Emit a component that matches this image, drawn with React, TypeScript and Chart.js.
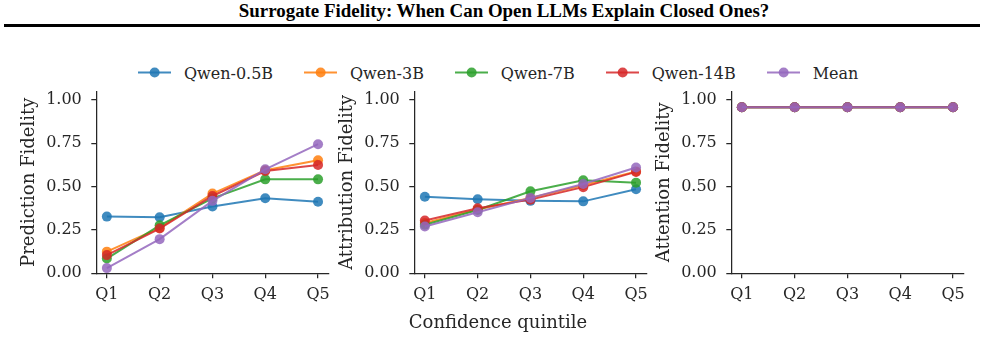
import React, { useEffect, useRef } from "react";
import { Chart, registerables } from "chart.js";
Chart.register(...registerables);

const categories = ["Q1", "Q2", "Q3", "Q4", "Q5"];
const seriesNames = ["Qwen-0.5B", "Qwen-3B", "Qwen-7B", "Qwen-14B", "Mean"];
const seriesColors = ["#1f77b4", "#ff7f0e", "#2ca02c", "#d62728", "#9467bd"];
const yTicks = [0, 0.25, 0.5, 0.75, 1.0];

const predQwen05 = [0.327, 0.323, 0.385, 0.433, 0.413];
const predQwen3 = [0.125, 0.262, 0.46, 0.595, 0.652];
const predQwen7 = [0.085, 0.277, 0.432, 0.542, 0.542];
const predQwen14 = [0.105, 0.258, 0.446, 0.59, 0.625];
const predMean = [0.03, 0.197, 0.418, 0.6, 0.745];

const attrQwen05 = [0.442, 0.427, 0.418, 0.415, 0.485];
const attrQwen3 = [0.29, 0.368, 0.435, 0.508, 0.588];
const attrQwen7 = [0.28, 0.365, 0.473, 0.537, 0.523];
const attrQwen14 = [0.305, 0.375, 0.425, 0.497, 0.585];
const attrMean = [0.27, 0.352, 0.435, 0.515, 0.61];

const attnQwen05 = [0.958, 0.958, 0.958, 0.958, 0.958];
const attnQwen3 = [0.958, 0.958, 0.958, 0.958, 0.958];
const attnQwen7 = [0.958, 0.958, 0.958, 0.958, 0.958];
const attnQwen14 = [0.958, 0.958, 0.958, 0.958, 0.958];
const attnMean = [0.958, 0.958, 0.958, 0.958, 0.958];

const panels = [
  { ylabel: "Prediction Fidelity", series: [predQwen05, predQwen3, predQwen7, predQwen14, predMean], left: 0 },
  { ylabel: "Attribution Fidelity", series: [attrQwen05, attrQwen3, attrQwen7, attrQwen14, attrMean], left: 317.5 },
  { ylabel: "Attention Fidelity", series: [attnQwen05, attnQwen3, attnQwen7, attnQwen14, attnMean], left: 635 },
];

const INK = "#262626";
const FONT = "'DejaVu Serif', serif";
const TICK_SIZE = 16;
const LABEL_SIZE = 18;
const CANVAS_W = 341;
const CANVAS_H = 240;
const Y_AXIS_W = 96.3;
const PLOT_W = 232.3;

function hexA(hex: string, a: number) {
  const n = parseInt(hex.slice(1), 16);
  return `rgba(${(n >> 16) & 255},${(n >> 8) & 255},${n & 255},${a})`;
}

function Panel({ ylabel, series, left }: { ylabel: string; series: number[][]; left: number }) {
  const ref = useRef<HTMLCanvasElement>(null);
  useEffect(() => {
    const chart = new Chart(ref.current!, {
      type: "line",
      data: {
        datasets: series.map((vals, i) => ({
          label: seriesNames[i],
          data: vals.map((v, j) => ({ x: j, y: v })),
          borderColor: hexA(seriesColors[i], 0.85),
          backgroundColor: hexA(seriesColors[i], 0.85),
          borderWidth: 2,
          pointRadius: 5,
          pointBorderWidth: 0,
          pointBackgroundColor: hexA(seriesColors[i], 0.85),
          order: 4 - i,
        })),
      },
      options: {
        animation: false,
        responsive: false,
        layout: { padding: { left: 0, right: CANVAS_W - Y_AXIS_W - PLOT_W, top: 11.3, bottom: 6.7 } },
        plugins: { legend: { display: false }, tooltip: { enabled: false } },
        scales: {
          x: {
            type: "linear",
            min: -0.2,
            max: 4.2,
            afterBuildTicks: (s: any) => {
              s.ticks = categories.map((_, i) => ({ value: i }));
            },
            afterFit: (s: any) => {
              s.height = 40;
              s.paddingLeft = 0;
              s.paddingRight = 0;
            },
            ticks: {
              callback: (v: any) => categories[v as number],
              color: INK,
              font: { family: FONT, size: TICK_SIZE },
              padding: 7,
              maxRotation: 0,
              autoSkip: false,
            },
            grid: { display: true, drawOnChartArea: false, drawTicks: true, tickLength: 5, color: INK, lineWidth: 1.25 },
            border: { display: true, color: INK, width: 1.25 },
          },
          y: {
            min: 0,
            max: 1.05,
            afterBuildTicks: (s: any) => {
              s.ticks = yTicks.map((v) => ({ value: v }));
            },
            afterFit: (s: any) => {
              s.width = Y_AXIS_W;
              s.paddingTop = 0;
              s.paddingBottom = 0;
            },
            ticks: {
              callback: (v: any) => Number(v).toFixed(2),
              color: INK,
              font: { family: FONT, size: TICK_SIZE },
              padding: 9.5,
            },
            title: {
              display: true,
              text: ylabel,
              color: INK,
              font: { family: FONT, size: LABEL_SIZE },
              padding: { top: 18.7, bottom: 0 },
            },
            grid: { display: true, drawOnChartArea: false, drawTicks: true, tickLength: 5, color: INK, lineWidth: 1.25 },
            border: { display: true, color: INK, width: 1.25 },
          },
        },
      },
    } as any);
    return () => chart.destroy();
  }, []);
  return (
    <canvas
      ref={ref}
      width={CANVAS_W}
      height={CANVAS_H}
      style={{ position: "absolute", left, top: 80, width: CANVAS_W, height: CANVAS_H }}
    />
  );
}

function LegendItem({ name, color }: { name: string; color: string }) {
  return (
    <div style={{ display: "flex", alignItems: "center", marginRight: 31 }}>
      <svg width={33.3} height={12} style={{ marginRight: 12.6 }}>
        <line x1={0} y1={6} x2={33.3} y2={6} stroke={hexA(color, 0.85)} strokeWidth={2} />
        <circle cx={16.65} cy={6} r={5} fill={hexA(color, 0.85)} />
      </svg>
      <span>{name}</span>
    </div>
  );
}

export default function App() {
  return (
    <div
      style={{
        position: "fixed",
        left: 0,
        top: 0,
        width: 985,
        height: 363,
        background: "#fff",
        overflow: "hidden",
        color: INK,
      }}
    >
      <div
        style={{
          position: "absolute",
          left: 504,
          top: 0,
          transform: "translateX(-50%)",
          whiteSpace: "nowrap",
          fontFamily: "'Liberation Serif', 'Times New Roman', serif",
          fontWeight: "bold",
          fontSize: 18.9,
          color: "#000",
        }}
      >
        Surrogate Fidelity: When Can Open LLMs Explain Closed Ones?
      </div>
      <div style={{ position: "absolute", left: 4, width: 976, top: 24, height: 2.5, background: "#000" }} />
      <div
        style={{
          position: "absolute",
          left: 138,
          top: 72.5,
          transform: "translateY(-50%)",
          display: "flex",
          alignItems: "center",
          fontFamily: FONT,
          fontSize: TICK_SIZE,
          whiteSpace: "nowrap",
        }}
      >
        {seriesNames.map((n, i) => (
          <LegendItem key={n} name={n} color={seriesColors[i]} />
        ))}
      </div>
      {panels.map((p) => (
        <Panel key={p.ylabel} ylabel={p.ylabel} series={p.series} left={p.left} />
      ))}
      <div
        style={{
          position: "absolute",
          left: 498,
          top: 311.4,
          transform: "translateX(-50%)",
          whiteSpace: "nowrap",
          fontFamily: FONT,
          fontSize: LABEL_SIZE,
        }}
      >
        Confidence quintile
      </div>
    </div>
  );
}
